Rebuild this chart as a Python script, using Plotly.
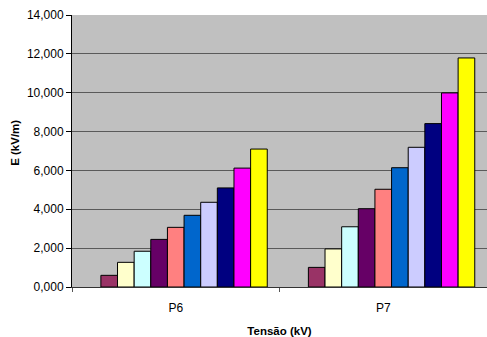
import plotly.graph_objects as go

categories = ["P6", "P7"]
series_names = ["", "S1", "S2", "S3", "S4", "S5", "S6", "S7", "S8", "S9", "S10"]
# first series is empty in the original (reserves a slot in each group)
values = [
    [None, None],
    [0.60, 1.01],
    [1.27, 1.96],
    [1.84, 3.10],
    [2.45, 4.03],
    [3.07, 5.03],
    [3.69, 6.14],
    [4.36, 7.19],
    [5.10, 8.41],
    [6.12, 9.99],
    [7.10, 11.79],
]
colors = ["#000000", "#993366", "#FFFFCC", "#CCFFFF", "#660066", "#FF8080",
          "#0066CC", "#CCCCFF", "#000080", "#FF00FF", "#FFFF00"]
y_ticks = [0, 2, 4, 6, 8, 10, 12, 14]

fig = go.Figure()
for name, vals, col in zip(series_names, values, colors):
    fig.add_trace(go.Bar(
        x=categories, y=vals, name=name, showlegend=False,
        marker=dict(color=col, line=dict(color="#000000", width=1)),
    ))

font = "Liberation Sans, Arial, sans-serif"
fig.update_layout(
    width=487, height=337,
    margin=dict(l=72, r=0, t=15, b=50),
    paper_bgcolor="#FFFFFF",
    plot_bgcolor="#C0C0C0",
    barmode="group",
    bargap=0.118,
    bargroupgap=0,
    separators=",.",
    font=dict(family=font, size=12, color="#000000"),
    annotations=[dict(
        text="<b>E (kV/m)</b>", textangle=-90,
        xref="paper", yref="paper", x=(15 - 72) / 415, y=0.53,
        xanchor="center", yanchor="middle", showarrow=False,
        font=dict(size=11.5, family=font),
    )],
)
fig.update_yaxes(
    range=[0, 14],
    tickvals=y_ticks,
    tickformat=".3f",
    showgrid=True, gridcolor="#5a5a5a", gridwidth=1,
    showline=True, linecolor="#000000", linewidth=1,
    ticks="outside", ticklen=5, tickcolor="#000000",
    zeroline=False,
)
fig.update_xaxes(
    showline=True, linecolor="#333333", linewidth=1,
    ticks="outside", ticklen=4, tickcolor="#555555",
    tickson="boundaries",
    ticklabelstandoff=10,
    title=dict(text="<b>Tensão (kV)</b>", font=dict(size=11.5, family=font), standoff=13),
)

fig.write_html("out.html")
